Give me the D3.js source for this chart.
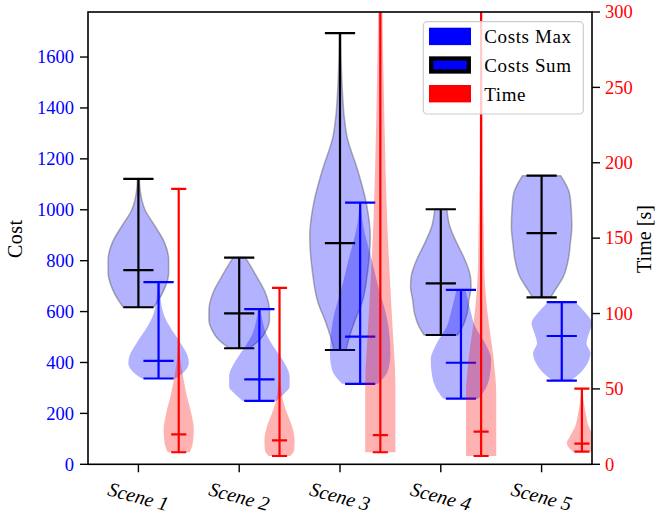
<!DOCTYPE html>
<html><head><meta charset="utf-8">
<script src="https://cdn.jsdelivr.net/npm/d3@7"></script>
<style>body{margin:0;background:#fff}svg{display:block}</style>
</head><body>
<svg id="c" width="657" height="514"></svg>
<script>
const scenes = ["Scene 1","Scene 2","Scene 3","Scene 4","Scene 5"];
const positions = [1,2,3,4,5];
const costTicks = [0,200,400,600,800,1000,1200,1400,1600];
const timeTicks = [0,50,100,150,200,250,300];

// Costs Sum (black lines)
const sumMin = [617, 456, 449, 508, 656];
const sumMax = [1121, 812, 1694, 1002, 1134];
const sumMid = [763, 593, 869, 711, 908];
const sumShape = [
  [[617,0.5],[646,0.67],[698,0.89],[751,1.0],[803,1.0],[869,0.87],[934,0.56],[999,0.22],[1065,0.07],[1121,0.03]],
  [[456,0.33],[488,0.67],[528,0.9],[567,1.0],[606,1.0],[672,0.87],[737,0.58],[803,0.25],[812,0.2]],
  [[449,0.2],[488,0.28],[567,0.5],[633,0.72],[764,0.92],[894,1.0],[1026,0.87],[1157,0.58],[1288,0.23],[1353,0.15],[1484,0.07],[1615,0.03],[1694,0.02]],
  [[508,0.55],[541,0.72],[593,0.87],[646,0.93],[698,1.0],[737,0.98],[803,0.8],[869,0.53],[934,0.3],[1002,0.2]],
  [[656,0.3],[685,0.45],[737,0.72],[803,0.88],[869,0.95],[934,1.0],[999,0.98],[1065,0.92],[1134,0.63]]
];
// Costs Max (blue lines)
const maxMin = [337, 249, 316, 258, 329];
const maxMax = [716, 610, 1028, 685, 637];
const maxMid = [406, 334, 502, 399, 504];
const maxShape = [
  [[337,0.55],[364,0.85],[397,1.0],[423,0.97],[476,0.73],[541,0.37],[580,0.2],[646,0.07],[716,0.03]],
  [[249,0.55],[279,0.83],[305,1.0],[344,1.0],[410,0.77],[462,0.47],[515,0.22],[567,0.1],[610,0.04]],
  [[316,0.6],[371,0.93],[436,1.0],[567,0.9],[698,0.6],[829,0.33],[895,0.18],[960,0.07],[1028,0.03]],
  [[258,0.58],[279,0.72],[344,0.95],[410,1.0],[476,0.8],[541,0.47],[606,0.31],[685,0.15]],
  [[329,0.3],[358,0.6],[397,0.85],[436,0.95],[476,0.82],[515,0.9],[554,1.0],[593,0.8],[637,0.45]]
];
// Time (red lines, right axis)
const timeMin = [8, 5.5, 8, 5.5, 8.4];
const timeMax = [182.7, 117, 340, 330, 50.2];
const timeMid = [19.9, 15.9, 19.3, 21.7, 13.7];
const timeShape = [
  [[8,0.73],[14,0.93],[22.8,1.0],[33.9,0.83],[47,0.5],[60.4,0.25],[69,0.12],[80,0.05],[120,0.02],[182.7,0.02]],
  [[5.5,0.72],[9.5,0.97],[16,1.0],[25,0.83],[33.9,0.5],[38,0.35],[47,0.15],[60,0.06],[117,0.03]],
  [[8,1.0],[29.4,1.0],[51.5,1.0],[95.8,0.78],[162,0.45],[228.7,0.27],[295,0.15],[340,0.1]],
  [[5.5,1.0],[25,1.0],[47,1.0],[69.3,0.83],[102.5,0.4],[124.6,0.23],[157.8,0.17],[202,0.1],[330,0.06]],
  [[8.4,0.6],[14,1.0],[18.3,0.8],[25,0.45],[33.9,0.25],[42.7,0.1],[50.2,0.05]]
];

const svg = d3.select("#c");
const L = 88, R = 592, T = 12, B = 464.3;
const x = d3.scaleLinear().domain([0.5, 5.5]).range([L, R]);
const yC = d3.scaleLinear().domain([0, 1777]).range([B, T]);
const yT = d3.scaleLinear().domain([0, 300]).range([B, T]);
const serif = "'Liberation Serif','Times New Roman',serif";

svg.append("defs").append("clipPath").attr("id","pc")
  .append("rect").attr("x",L).attr("y",T).attr("width",R-L).attr("height",B-T);
const g = svg.append("g").attr("clip-path","url(#pc)");

function violins(shapes, mins, maxs, mids, offset, hw, ys, fill, edge, lineColor) {
  const bodies = g.append("g");
  shapes.forEach((sh, i) => {
    const cx = x(positions[i] + offset);
    const half = x(positions[i] + hw) - x(positions[i]);
    const pts = sh.slice().sort((a,b)=>a[0]-b[0]);
    const area = d3.area().curve(d3.curveMonotoneY)
      .y(d => ys(d[0])).x0(d => cx - d[1]*half).x1(d => cx + d[1]*half);
    bodies.append("path").attr("d", area(pts))
      .attr("fill", fill).attr("fill-opacity", 0.3)
      .attr("stroke", edge ? "#555" : "none").attr("stroke-opacity", 0.45).attr("stroke-width", 1.5);
  });
  const lines = g.append("g").attr("stroke", lineColor).attr("stroke-width", 2.2);
  positions.forEach((p, i) => {
    const cx = x(p + offset);
    const cw = x(p + hw/2) - x(p);
    lines.append("line").attr("x1",cx).attr("x2",cx).attr("y1",ys(mins[i])).attr("y2",ys(maxs[i]));
    [mins[i], maxs[i], mids[i]].forEach(v => {
      lines.append("line").attr("x1",cx-cw).attr("x2",cx+cw).attr("y1",ys(v)).attr("y2",ys(v));
    });
  });
}
violins(sumShape, sumMin, sumMax, sumMid, 0, 0.3, yC, "blue", true, "#000");
violins(maxShape, maxMin, maxMax, maxMid, 0.2, 0.3, yC, "blue", false, "blue");
violins(timeShape, timeMin, timeMax, timeMid, 0.4, 0.15, yT, "red", false, "red");

// frame
svg.append("rect").attr("x",L).attr("y",T).attr("width",R-L).attr("height",B-T)
  .attr("fill","none").attr("stroke","#000").attr("stroke-width",1.6);

// left axis
const la = svg.append("g");
costTicks.forEach(v => {
  la.append("line").attr("x1",L-8).attr("x2",L).attr("y1",yC(v)).attr("y2",yC(v)).attr("stroke","#000").attr("stroke-width",1.4);
  la.append("text").attr("x",L-14).attr("y",yC(v)).attr("dy","0.34em").attr("text-anchor","end")
    .attr("font-family",serif).attr("font-size",18.5).attr("fill","blue").text(v);
});
// right axis
const ra = svg.append("g");
timeTicks.forEach(v => {
  ra.append("line").attr("x1",R).attr("x2",R+8).attr("y1",yT(v)).attr("y2",yT(v)).attr("stroke","#000").attr("stroke-width",1.4);
  ra.append("text").attr("x",R+13).attr("y",yT(v)).attr("dy","0.34em").attr("text-anchor","start")
    .attr("font-family",serif).attr("font-size",18.5).attr("fill","red").text(v);
});
// x axis
positions.forEach((p, i) => {
  svg.append("line").attr("x1",x(p)).attr("x2",x(p)).attr("y1",B).attr("y2",B+8).attr("stroke","#000").attr("stroke-width",1.4);
  svg.append("text").attr("transform",`translate(${x(p)},496.5) rotate(15)`)
    .attr("text-anchor","middle").attr("dy","0.34em")
    .attr("font-family",serif).attr("font-style","italic").attr("font-size",20).attr("fill","#000")
    .text(scenes[i]);
});
// axis labels
svg.append("text").attr("transform","translate(22,239) rotate(-90)").attr("text-anchor","middle")
  .attr("font-family",serif).attr("font-size",20).attr("textLength",38).attr("lengthAdjust","spacing").text("Cost");
svg.append("text").attr("transform","translate(651,239) rotate(-90)").attr("text-anchor","middle")
  .attr("font-family",serif).attr("font-size",20).attr("textLength",68).attr("lengthAdjust","spacing").text("Time [s]");

// legend
const legendLabels = ["Costs Max","Costs Sum","Time"];
const lg = svg.append("g");
lg.append("rect").attr("x",423.3).attr("y",21.7).attr("width",160).attr("height",92.3).attr("rx",4)
  .attr("fill","#fff").attr("fill-opacity",0.8).attr("stroke","#ccc").attr("stroke-width",1.2);
const rowY = [27.7, 56.3, 85];
lg.append("rect").attr("x",429).attr("y",rowY[0]).attr("width",42).attr("height",17.4).attr("fill","blue");
lg.append("rect").attr("x",431.2).attr("y",rowY[1]+2.2).attr("width",37.6).attr("height",13).attr("fill","blue").attr("stroke","#000").attr("stroke-width",4.3);
lg.append("rect").attr("x",429).attr("y",rowY[2]).attr("width",42).attr("height",17.4).attr("fill","red");
legendLabels.forEach((t, i) => {
  lg.append("text").attr("x",484.3).attr("y",rowY[i]+15.6).attr("font-family",serif).attr("font-size",19)
    .attr("letter-spacing",0.6).text(t);
});
</script>
</body></html>
